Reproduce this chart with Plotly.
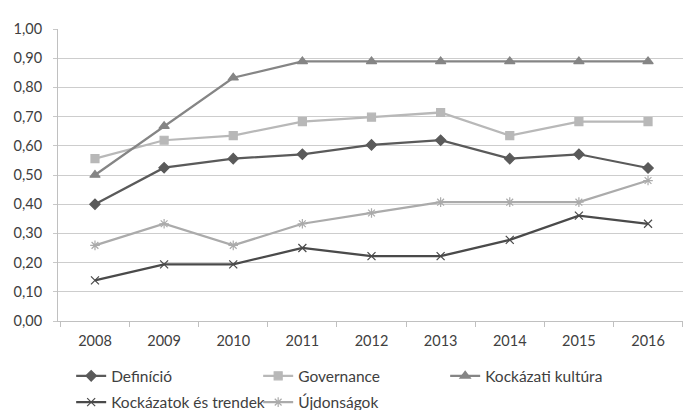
import plotly.graph_objects as go

years = ["2008", "2009", "2010", "2011", "2012", "2013", "2014", "2015", "2016"]

definicio = [0.40, 0.525, 0.556, 0.571, 0.603, 0.619, 0.556, 0.571, 0.524]
governance = [0.556, 0.619, 0.635, 0.683, 0.698, 0.714, 0.635, 0.683, 0.683]
kockazati_kultura = [0.50, 0.667, 0.833, 0.889, 0.889, 0.889, 0.889, 0.889, 0.889]
kockazatok_trendek = [0.139, 0.194, 0.194, 0.25, 0.222, 0.222, 0.278, 0.361, 0.333]
ujdonsagok = [0.259, 0.333, 0.259, 0.333, 0.37, 0.407, 0.407, 0.407, 0.481]

# name, values, colour, marker, size, legend row
series = [
    ("Definíció", definicio, "#5a5a5a", "diamond", 8, "legend"),
    ("Governance", governance, "#b8b8b8", "square", 8, "legend"),
    ("Kockázati kultúra", kockazati_kultura, "#858585", "triangle-up", 9, "legend"),
    ("Kockázatok és trendek", kockazatok_trendek, "#4a4a4a", "x-thin", 8, "legend2"),
    ("Újdonságok", ujdonsagok, "#ababab", "asterisk", 8, "legend2"),
]

fig = go.Figure()
for name, vals, color, sym, size, leg in series:
    fig.add_trace(go.Scatter(
        x=years, y=vals, name=name, mode="lines+markers", legend=leg,
        line=dict(color=color, width=2.25),
        marker=dict(symbol=sym, size=size, color=color,
                    line=dict(color=color, width=1.2)),
    ))

legend_common = dict(
    orientation="h", x=0.021, xanchor="left", yanchor="top",
    entrywidth=142, entrywidthmode="pixels", itemwidth=30,
    bgcolor="rgba(0,0,0,0)",
)

# the page body has an 8px margin, so margins are shifted by 8px
fig.update_layout(
    width=691, height=410,
    margin=dict(l=50, r=14, t=21, b=97, autoexpand=False),
    paper_bgcolor="white", plot_bgcolor="white",
    separators=", ",
    font=dict(family="Lato, Open Sans, sans-serif", size=15.5, color="#404040"),
    xaxis=dict(
        type="category", tickson="boundaries", ticks="outside", ticklen=5,
        tickcolor="#c0c0c0", showline=True, linecolor="#c0c0c0",
        showgrid=False, ticklabelstandoff=7, tickfont=dict(size=14.5),
    ),
    yaxis=dict(
        range=[0, 1.0], dtick=0.1, tickformat=".2f", ticks="outside", ticklen=4,
        tickcolor="#c8c8c8", showline=True, linecolor="#c0c0c0",
        gridcolor="#cdcdcd", gridwidth=1, zeroline=False, ticklabelstandoff=8,
        tickfont=dict(size=14.5),
    ),
    legend=dict(y=-0.131, **legend_common),
    legend2=dict(y=-0.221, **legend_common),
)

fig.write_html("out.html")
